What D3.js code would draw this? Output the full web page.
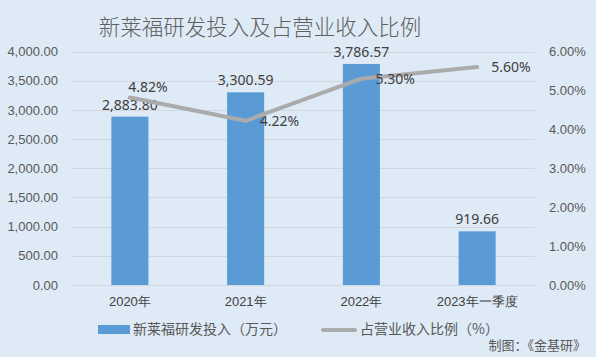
<!DOCTYPE html>
<html><head><meta charset="utf-8">
<script src="https://cdn.jsdelivr.net/npm/d3@7"></script>
<style>
html,body{margin:0;padding:0;background:#DEEAF6;}
svg{display:block;font-family:"Noto Sans","Noto Sans CJK SC",sans-serif;}
</style></head><body>
<svg id="c" width="596" height="357"></svg>
<script>
const categories = ["2020年","2021年","2022年","2023年一季度"];
const investment = [2883.80, 3300.59, 3786.57, 919.66];
const ratio = [4.82, 4.22, 5.30, 5.60];
const leftTicks = [0,500,1000,1500,2000,2500,3000,3500,4000];
const rightTicks = [0,1,2,3,4,5,6];
const title = "新莱福研发投入及占营业收入比例";
const legendLabels = ["新莱福研发投入（万元）","占营业收入比例（%）"];
const credit = "制图：《金基研》";

const svg = d3.select("#c");
const W = 596, H = 357;
svg.append("rect").attr("width",W).attr("height",H).attr("fill","#DEEAF6");

const m = {l:72, r:61, t:51.5, b:72};
const x = d3.scaleBand().domain(categories).range([m.l, W-m.r]).paddingInner(0.68).paddingOuter(0.34);
const yL = d3.scaleLinear().domain([0,4000]).range([H-m.b, m.t]);
const yR = d3.scaleLinear().domain([0,6]).range([H-m.b, m.t]);

// gridlines
svg.append("g").selectAll("line").data(leftTicks).join("line")
  .attr("x1",m.l).attr("x2",W-m.r)
  .attr("y1",d=>Math.round(yL(d))+0.5).attr("y2",d=>Math.round(yL(d))+0.5)
  .attr("stroke","#D0D7DF").attr("stroke-width",1);

// left axis
const fmtL = d3.format(",.2f");
const axL = d3.axisLeft(yL).tickValues(leftTicks).tickFormat(fmtL).tickSize(0).tickPadding(14);
const gL = svg.append("g").attr("transform",`translate(${m.l},0)`).call(axL);
gL.select(".domain").remove();
gL.selectAll("text").attr("fill","#595959").style("font-size","13px");

// right axis
const axR = d3.axisRight(yR).tickValues(rightTicks).tickFormat(d=>d.toFixed(2)+"%").tickSize(0).tickPadding(14);
const gR = svg.append("g").attr("transform",`translate(${W-m.r},0)`).call(axR);
gR.select(".domain").remove();
gR.selectAll("text").attr("fill","#595959").style("font-size","13px");

// x axis
const axB = d3.axisBottom(x).tickSize(0).tickPadding(12);
const gB = svg.append("g").attr("transform",`translate(0,${H-m.b})`).call(axB);
gB.select(".domain").remove();
gB.selectAll("text").attr("fill","#404040").style("font-size","13px");

// bars
svg.append("g").selectAll("rect").data(investment).join("rect")
  .attr("x",(d,i)=>x(categories[i])).attr("width",x.bandwidth())
  .attr("y",d=>yL(d)).attr("height",d=>yL(0)-yL(d)).attr("fill","#5B9BD5");

// bar labels
svg.append("g").selectAll("text").data(investment).join("text")
  .attr("x",(d,i)=>x(categories[i])+x.bandwidth()/2).attr("y",d=>yL(d)-7)
  .attr("text-anchor","middle").attr("fill","#404040").style("font-size","14px")
  .text(d=>fmtL(d));

// line
const cx = (i)=>x(categories[i])+x.bandwidth()/2;
const line = d3.line().x((d,i)=>cx(i)).y(d=>yR(d));
svg.append("path").datum(ratio).attr("d",line).attr("fill","none")
  .attr("stroke","#ABABAB").attr("stroke-width",4).attr("stroke-linejoin","round").attr("stroke-linecap","round");

// line labels: first above, others right
svg.append("g").selectAll("text").data(ratio).join("text")
  .attr("x",(d,i)=> i===0 ? cx(i)+18 : cx(i)+14)
  .attr("y",(d,i)=> i===0 ? yR(d)-5 : yR(d)+5)
  .attr("text-anchor",(d,i)=> i===0 ? "middle" : "start")
  .attr("fill","#404040").style("font-size","14px")
  .text(d=>d.toFixed(2)+"%");

// title
svg.append("text").attr("x",260).attr("y",35).attr("text-anchor","middle")
  .attr("fill","#5f5f5f").style("font-size","21.5px").style("font-weight","300")
  .style("font-family","'Noto Sans CJK SC',sans-serif").text(title);

// legend
const lg = svg.append("g").style("font-family","'Noto Sans CJK SC',sans-serif");
lg.append("rect").attr("x",98).attr("y",325).attr("width",32).attr("height",9).attr("fill","#5B9BD5");
lg.append("text").attr("x",133).attr("y",334).attr("fill","#595959").style("font-size","14px").text(legendLabels[0]);
lg.append("line").attr("x1",323).attr("x2",355).attr("y1",330).attr("y2",330).attr("stroke","#ABABAB").attr("stroke-width",4).attr("stroke-linecap","round");
lg.append("text").attr("x",360).attr("y",334).attr("fill","#595959").style("font-size","14px").text(legendLabels[1]);

// credit
svg.append("text").attr("x",586).attr("y",350).attr("text-anchor","end").attr("fill","#595959")
  .style("font-size","13px").style("font-family","'Noto Sans CJK SC',sans-serif").text(credit);
</script>
</body></html>
